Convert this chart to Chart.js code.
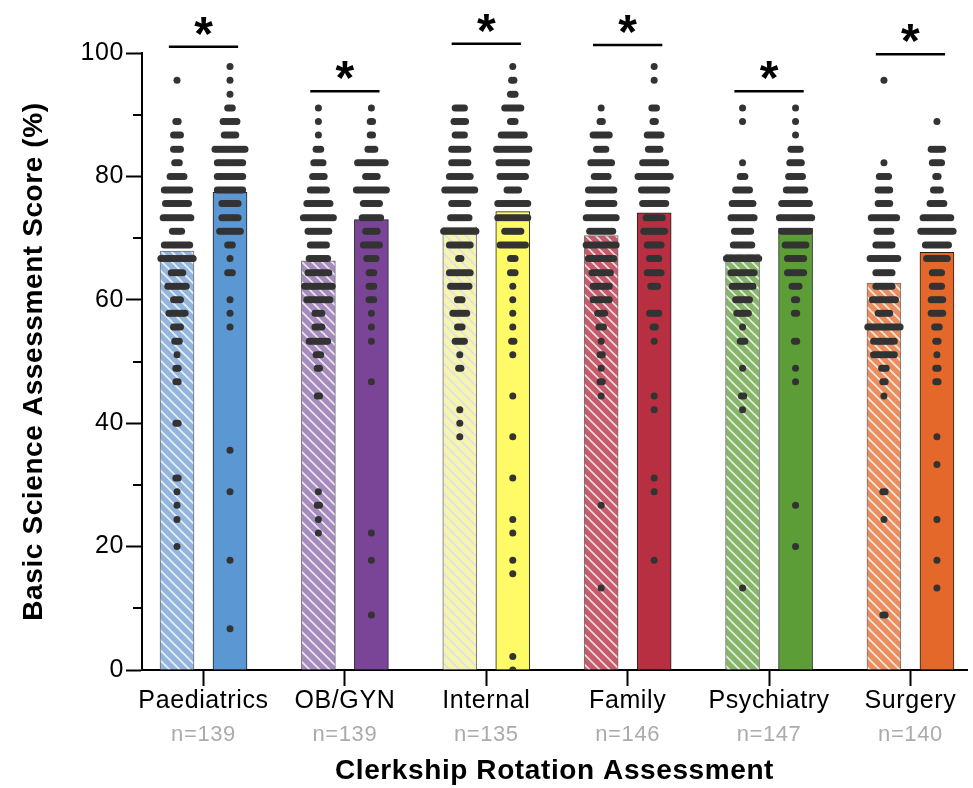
<!DOCTYPE html>
<html>
<head>
<meta charset="utf-8">
<script src="https://cdn.jsdelivr.net/npm/chart.js@4.4.0/dist/chart.umd.min.js"></script>
<style>
  html, body { margin: 0; padding: 0; background: #fff; }
  #chart { display: block; }
</style>
</head>
<body>
<canvas id="chart" width="973" height="788"></canvas>
<script>
// ── DATA ──────────────────────────────────────────────────────────────────────

const CATEGORIES = ['Paediatrics', 'OB/GYN', 'Internal', 'Family', 'Psychiatry', 'Surgery'];
const N_LABELS   = ['n=139', 'n=139', 'n=135', 'n=146', 'n=147', 'n=140'];

// bar heights (mean score, %)
const MEAN_PRE  = [67.9, 66.3, 71.8, 70.4, 67.4, 62.7];
const MEAN_POST = [77.4, 73.0, 74.3, 74.1, 71.6, 67.7];

// height of the significance bracket over each pair
const SIG_LEVEL = [101.0, 93.8, 101.5, 101.3, 93.8, 99.8];

// individual scores: [score %, number of students]
const PAED_PRE = [[95.6,1],[88.9,2],[86.7,4],[84.4,4],[82.2,3],[80.0,7],[77.8,12],[75.6,11],[73.3,13],[71.1,5],[68.9,12],[66.7,15],[64.4,6],[62.2,9],[60.0,4],[57.8,8],[55.6,4],[53.3,3],[51.1,1],[48.9,2],[46.7,2],[40.0,2],[31.1,2],[28.9,1],[26.7,1],[24.4,1],[20.0,1]];
const PAED_POST = [[97.8,1],[95.6,1],[93.3,1],[91.1,3],[88.9,7],[86.7,6],[84.4,14],[82.2,12],[80.0,12],[77.8,12],[75.6,8],[73.3,8],[71.1,10],[68.9,3],[66.7,1],[64.4,3],[60.0,1],[57.8,1],[55.6,1],[35.6,1],[28.9,1],[17.8,1],[6.7,1]];
const OBGYN_PRE = [[91.1,1],[88.9,1],[86.7,1],[84.4,3],[82.2,5],[80.0,6],[77.8,8],[75.6,11],[73.3,14],[71.1,10],[68.9,8],[66.7,9],[64.4,10],[62.2,13],[60.0,11],[57.8,4],[55.6,4],[53.3,9],[51.1,3],[48.9,2],[44.4,2],[28.9,1],[26.7,2],[24.4,1],[22.2,1]];
const OBGYN_POST = [[91.1,1],[88.9,2],[86.7,2],[84.4,4],[82.2,13],[80.0,6],[77.8,14],[75.6,8],[73.3,9],[71.1,6],[68.9,8],[66.7,5],[64.4,3],[62.2,3],[60.0,3],[57.8,1],[55.6,1],[53.3,1],[46.7,1],[22.2,1],[17.8,1],[8.9,1]];
const INTERNAL_PRE = [[91.1,5],[88.9,6],[86.7,5],[84.4,8],[82.2,8],[80.0,10],[77.8,14],[75.6,8],[73.3,9],[71.1,15],[68.9,10],[66.7,2],[64.4,10],[62.2,9],[60.0,3],[57.8,7],[55.6,3],[53.3,5],[51.1,1],[48.9,2],[42.2,1],[40.0,1],[37.8,1]];
const INTERNAL_POST = [[97.8,1],[95.6,2],[93.3,3],[91.1,8],[88.9,3],[86.7,11],[84.4,15],[82.2,13],[80.0,12],[77.8,6],[75.6,14],[73.3,14],[71.1,8],[68.9,12],[66.7,3],[64.4,3],[62.2,1],[60.0,1],[57.8,1],[55.6,1],[53.3,2],[51.1,1],[44.4,1],[37.8,1],[31.1,1],[24.4,1],[22.2,1],[17.8,1],[15.6,1],[2.2,1],[0,1]];
const FAMILY_PRE = [[91.1,1],[88.9,2],[86.7,8],[84.4,5],[82.2,10],[80.0,7],[77.8,12],[75.6,12],[73.3,14],[71.1,11],[68.9,14],[66.7,12],[64.4,9],[62.2,8],[60.0,8],[57.8,4],[55.6,3],[53.3,1],[51.1,2],[48.9,1],[46.7,2],[44.4,1],[26.7,1],[13.3,1]];
const FAMILY_POST = [[97.8,1],[95.6,1],[91.1,3],[88.9,2],[86.7,7],[84.4,6],[82.2,11],[80.0,15],[77.8,12],[75.6,11],[73.3,8],[71.1,10],[68.9,7],[66.7,5],[64.4,7],[62.2,4],[57.8,5],[55.6,2],[53.3,1],[44.4,1],[42.2,1],[31.1,1],[28.9,1],[17.8,1]];
const PSYCH_PRE = [[91.1,1],[88.9,1],[82.2,1],[80.0,3],[77.8,7],[75.6,10],[73.3,11],[71.1,8],[68.9,9],[66.7,15],[64.4,11],[62.2,10],[60.0,7],[57.8,6],[55.6,1],[53.3,3],[48.9,1],[44.4,2],[42.2,1],[13.3,1]];
const PSYCH_POST = [[91.1,1],[88.9,1],[86.7,1],[84.4,5],[82.2,6],[80.0,7],[77.8,9],[75.6,13],[73.3,15],[71.1,13],[68.9,10],[66.7,8],[64.4,8],[62.2,4],[60.0,2],[57.8,2],[53.3,2],[48.9,1],[46.7,1],[26.7,1],[20.0,1]];
const SURG_PRE = [[95.6,1],[82.2,1],[80.0,5],[77.8,6],[75.6,6],[73.3,12],[71.1,7],[68.9,8],[66.7,13],[64.4,8],[62.2,8],[60.0,11],[57.8,6],[55.6,15],[53.3,10],[51.1,10],[48.9,3],[46.7,2],[44.4,1],[28.9,2],[24.4,1],[8.9,2]];
const SURG_POST = [[88.9,1],[84.4,6],[82.2,5],[80.0,2],[77.8,4],[75.6,7],[73.3,13],[71.1,15],[68.9,11],[66.7,10],[64.4,5],[62.2,5],[60.0,6],[57.8,6],[55.6,3],[53.3,2],[51.1,1],[48.9,2],[46.7,2],[37.8,1],[33.3,1],[24.4,1],[17.8,1],[13.3,1]];

const DOTS_PRE  = [PAED_PRE, OBGYN_PRE, INTERNAL_PRE, FAMILY_PRE, PSYCH_PRE, SURG_PRE];
const DOTS_POST = [PAED_POST, OBGYN_POST, INTERNAL_POST, FAMILY_POST, PSYCH_POST, SURG_POST];

// ── STYLE ─────────────────────────────────────────────────────────────────────

const HATCH_BASE   = ['#93b5de', '#a68bbe', '#f6f5ac', '#c65b6b', '#87b56a', '#ea8e5f'];
const HATCH_STRIPE = ['rgba(255,255,255,0.8)', 'rgba(255,255,255,0.8)', 'rgba(220,220,240,0.95)',
                      'rgba(255,255,255,0.8)', 'rgba(255,255,255,0.8)', 'rgba(255,255,255,0.8)'];
const SOLID_FILL   = ['#5b97d2', '#7a4596', '#fffb66', '#b82f42', '#5d9d37', '#e3682a'];

const X_MIN = 0.565, X_MAX = 6.4;   // axis runs a bit past the outer groups
const PAIR_OFFSET = 0.1874;          // bar centre distance from group centre (x units)
const DOT_STEP = 0.0163;             // horizontal spacing of stacked dots (x units)
const SIG_HALF = 0.245;              // half length of significance bracket
const TEXT_FONT = '"Liberation Sans", Arial, Helvetica, sans-serif';

Chart.defaults.font.family = TEXT_FONT;
Chart.defaults.color = '#000';

const canvas = document.getElementById('chart');
const ctx = canvas.getContext('2d');

function hatch(base, stripe) {
  const s = 10;
  const c = document.createElement('canvas');
  c.width = c.height = s;
  const g = c.getContext('2d');
  g.fillStyle = base;
  g.fillRect(0, 0, s, s);
  g.strokeStyle = stripe;
  g.lineWidth = 1.6;
  g.beginPath();
  for (const o of [-s, 0, s]) {
    g.moveTo(-1, o - 1);
    g.lineTo(s + 1, o + s + 1);
  }
  g.stroke();
  return ctx.createPattern(c, 'repeat');
}

function swarm(groups, side) {
  const pts = [];
  groups.forEach((rows, gi) => {
    const centre = gi + 1 + side * PAIR_OFFSET;
    rows.forEach(([score, count]) => {
      for (let i = 0; i < count; i++) {
        pts.push({ x: centre + (i - (count - 1) / 2) * DOT_STEP, y: score });
      }
    });
  });
  return pts;
}

// ── PLUGIN: letter spacing, minor ticks, significance marks ─────────────────

const SPACING = '0.6px';

const extras = {
  id: 'extras',
  beforeUpdate(chart) { chart.ctx.letterSpacing = SPACING; },
  beforeDraw(chart) { chart.ctx.letterSpacing = SPACING; },
  afterDraw(chart) {
    const { ctx, chartArea, scales: { x, y } } = chart;
    ctx.save();
    ctx.letterSpacing = '0px';
    ctx.strokeStyle = '#000';
    ctx.lineWidth = 2;
    for (let v = 10; v < 100; v += 20) {
      const py = Math.round(y.getPixelForValue(v));
      ctx.beginPath();
      ctx.moveTo(chartArea.left - 9, py);
      ctx.lineTo(chartArea.left, py);
      ctx.stroke();
    }
    ctx.lineWidth = 2.5;
    ctx.fillStyle = '#000';
    ctx.font = 'bold 48px ' + TEXT_FONT;
    ctx.textAlign = 'center';
    ctx.textBaseline = 'alphabetic';
    SIG_LEVEL.forEach((lvl, i) => {
      const py = y.getPixelForValue(lvl);
      ctx.beginPath();
      ctx.moveTo(x.getPixelForValue(i + 1 - SIG_HALF), py);
      ctx.lineTo(x.getPixelForValue(i + 1 + SIG_HALF), py);
      ctx.stroke();
      ctx.fillText('*', x.getPixelForValue(i + 1), py + 3);
    });
    ctx.restore();
  },
};

// ── CHART ─────────────────────────────────────────────────────────────────────

const groupTicks = (scale) => { scale.ticks = CATEGORIES.map((_, i) => ({ value: i + 1 })); };

new Chart(ctx, {
  type: 'bar',
  data: {
    datasets: [
      {
        type: 'bar', label: 'Pre',
        data: MEAN_PRE.map((v, i) => ({ x: i + 1, y: v })),
        backgroundColor: HATCH_BASE.map((c, i) => hatch(c, HATCH_STRIPE[i])),
        borderColor: '#707070', borderWidth: 1,
        barThickness: 53, maxBarThickness: 34, order: 2,
      },
      {
        type: 'bar', label: 'Post',
        data: MEAN_POST.map((v, i) => ({ x: i + 1, y: v })),
        backgroundColor: SOLID_FILL,
        borderColor: '#222', borderWidth: 1,
        barThickness: 53, maxBarThickness: 34, order: 2,
      },
      {
        type: 'scatter', label: 'Pre scores', data: swarm(DOTS_PRE, -1),
        pointRadius: 3.5, pointBackgroundColor: '#333', pointBorderWidth: 0, order: 1,
      },
      {
        type: 'scatter', label: 'Post scores', data: swarm(DOTS_POST, 1),
        pointRadius: 3.5, pointBackgroundColor: '#333', pointBorderWidth: 0, order: 1,
      },
    ],
  },
  options: {
    responsive: false,
    animation: false,
    devicePixelRatio: 1,
    events: [],
    layout: { padding: { top: 53, right: 6, left: 0, bottom: 0 } },
    plugins: { legend: { display: false }, tooltip: { enabled: false } },
    scales: {
      x: {
        type: 'linear', position: 'bottom', min: X_MIN, max: X_MAX, offset: false,
        afterBuildTicks: groupTicks,
        afterFit: (s) => { s.height = 50; },
        grid: { offset: false, drawOnChartArea: false, tickLength: 16, tickWidth: 2, tickColor: '#000' },
        border: { display: true, color: '#000', width: 2 },
        ticks: {
          autoSkip: false, maxRotation: 0, minRotation: 0, padding: 0,
          font: { size: 25 }, color: '#000',
          callback: (v) => CATEGORIES[v - 1],
        },
      },
      xn: {
        type: 'linear', position: 'bottom', min: X_MIN, max: X_MAX, offset: false,
        afterBuildTicks: groupTicks,
        afterFit: (s) => { s.height = 68; },
        grid: { display: false, drawTicks: false },
        border: { display: false },
        ticks: {
          autoSkip: false, maxRotation: 0, minRotation: 0, padding: 2,
          font: { size: 22 }, color: '#ababab',
          callback: (v) => N_LABELS[v - 1],
        },
        title: {
          display: true, text: 'Clerkship Rotation Assessment',
          font: { size: 28, weight: 'bold' }, color: '#000', padding: { top: 0, bottom: 0 },
        },
      },
      y: {
        min: 0, max: 100,
        afterFit: (s) => { s.width = 142; },
        grid: { drawOnChartArea: false, tickLength: 16, tickWidth: 2, tickColor: '#000' },
        border: { display: true, color: '#000', width: 2 },
        ticks: { stepSize: 20, padding: 2, font: { size: 25 }, color: '#000' },
        title: {
          display: true, text: 'Basic Science Assessment Score (%)',
          font: { size: 28, weight: 'bold' }, color: '#000', padding: { top: 17, bottom: 0 },
        },
      },
    },
  },
  plugins: [extras],
});
</script>
</body>
</html>
